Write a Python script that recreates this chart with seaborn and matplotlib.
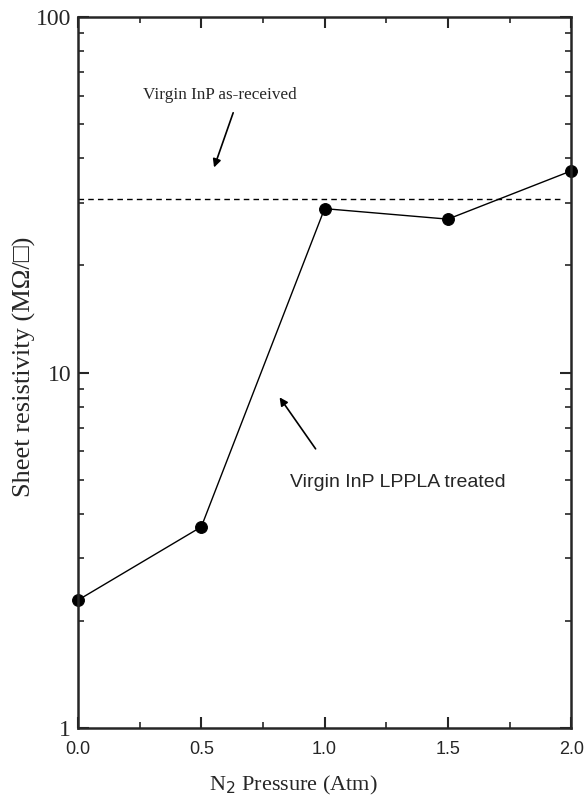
import matplotlib
matplotlib.use("Agg")
import matplotlib.pyplot as plt
import seaborn as sns
import pandas as pd
from matplotlib.ticker import FixedLocator, NullFormatter, LogLocator

pressure = [0.0, 0.5, 1.0, 1.5, 2.0]
resistivity = [2.29, 3.68, 28.9, 27.0, 36.9]
virgin_level = 30.8
x_ticks = [0.0, 0.5, 1.0, 1.5, 2.0]
x_tick_labels = ["0.0", "0.5", "1.0", "1.5", "2.0"]
y_ticks = [1, 10, 100]
y_tick_labels = ["1", "10", "100"]

sns.set_style("ticks")
serif = ["Liberation Serif", "DejaVu Serif"]
sans = ["Liberation Sans", "DejaVu Sans"]

fig = plt.figure(figsize=(5.84, 8.01), dpi=100)
ax = fig.add_axes([0.1336, 0.0911, 0.978 - 0.1336, 0.9788 - 0.0911])

df = pd.DataFrame({"p": pressure, "r": resistivity})
sns.lineplot(data=df, x="p", y="r", ax=ax, color="black", linewidth=1.0,
             marker="o", markersize=8.5, markeredgecolor="black", clip_on=False)
ax.plot([0.0, 1.955], [virgin_level, virgin_level], linestyle=(0, (4, 3)),
        color="black", linewidth=1.0)

ax.set_yscale("log")
ax.set_xlim(0, 2.0)
ax.set_ylim(1, 100)
ax.set_xticks(x_ticks)
ax.set_xticklabels(x_tick_labels, fontfamily=sans, fontsize=13)
ax.xaxis.set_minor_locator(FixedLocator([0.25, 0.75, 1.25, 1.75]))
ax.set_yticks(y_ticks)
ax.set_yticklabels(y_tick_labels, fontfamily=serif, fontsize=17)
ax.yaxis.set_minor_locator(LogLocator(base=10, subs=range(2, 10)))
ax.yaxis.set_minor_formatter(NullFormatter())

ax.tick_params(which="major", direction="in", length=8, width=1.5,
               top=True, right=True)
ax.tick_params(axis="x", which="major", pad=9)
ax.tick_params(axis="y", which="major", pad=5)
ax.tick_params(which="minor", direction="in", length=4, width=1.2,
               top=True, right=True)
for s in ax.spines.values():
    s.set_linewidth(1.8)
    s.set_visible(True)

ax.set_xlabel("N$_2$ Pressure (Atm)", fontfamily=serif, fontsize=16)
ax.xaxis.set_label_coords(0.437, -0.065)
ax.set_ylabel("Sheet resistivity (M\u03a9/\u25a1)", fontfamily=["Liberation Serif", "DejaVu Sans"],
              fontsize=19)
ax.yaxis.set_label_coords(-0.085, 0.508)

ax.text(0.575, 60.3, "Virgin InP as-received", fontfamily=serif, fontsize=12.3,
        ha="center", va="center")
ax.annotate("", xy=(0.548, 37.1), xytext=(0.633, 54.7),
            arrowprops=dict(arrowstyle="-|>", color="black", lw=1.2,
                            mutation_scale=12))
ax.text(1.298, 4.89, "Virgin InP LPPLA treated", fontfamily=sans, fontsize=14,
        ha="center", va="center")
ax.annotate("", xy=(0.811, 8.64), xytext=(0.970, 6.01),
            arrowprops=dict(arrowstyle="-|>", color="black", lw=1.2,
                            mutation_scale=12))

fig.savefig("out.png", dpi=100)
